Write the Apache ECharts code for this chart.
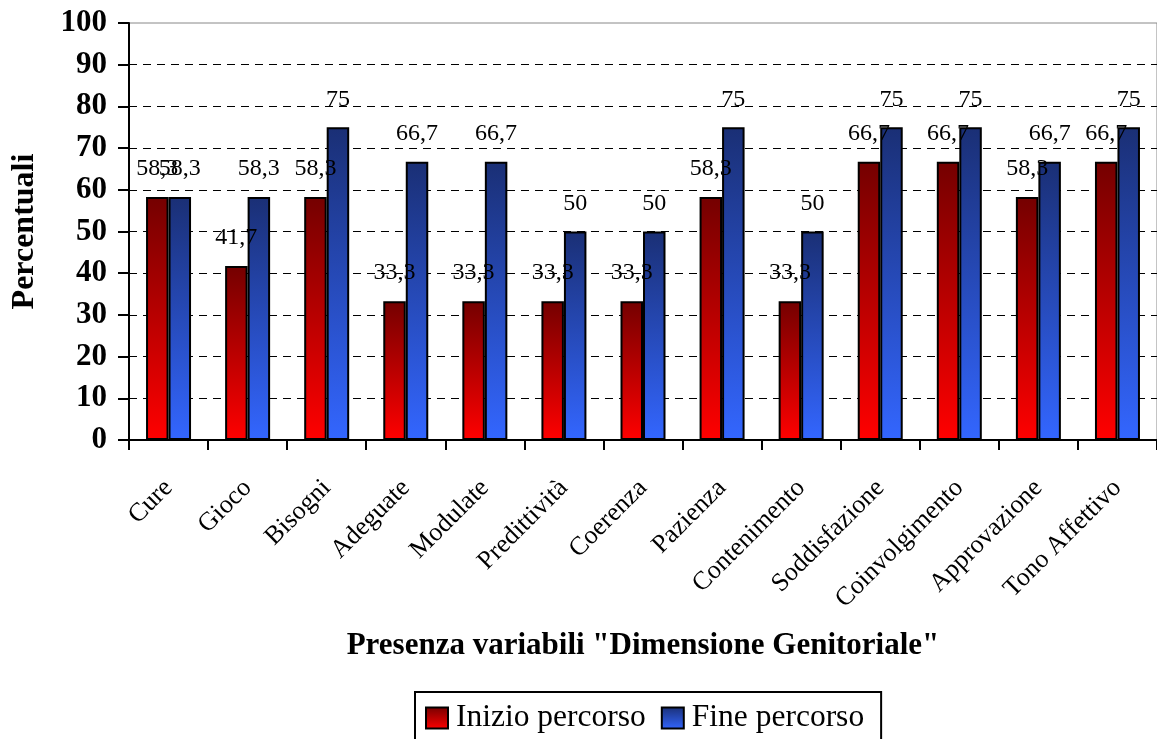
<!DOCTYPE html>
<html>
<head>
<meta charset="utf-8">
<script src="https://cdn.jsdelivr.net/npm/echarts@6/dist/echarts.min.js"></script>
<style>html,body{margin:0;padding:0;background:#fff}#c{width:1157px;height:739px}</style>
</head>
<body>
<div id="c"></div>
<script>
const categories = ['Cure','Gioco','Bisogni','Adeguate','Modulate','Predittività','Coerenza','Pazienza','Contenimento','Soddisfazione','Coinvolgimento','Approvazione','Tono Affettivo'];
const inizio = [58.3,41.7,58.3,33.3,33.3,33.3,33.3,58.3,33.3,66.7,66.7,58.3,66.7];
const fine = [58.3,58.3,75,66.7,66.7,50,50,75,50,75,75,66.7,75];
const yTicks = {min:0, max:100, interval:10};

const F = '"Liberation Serif","Times New Roman",serif';
function grad(top, bottom){
  return new echarts.graphic.LinearGradient(0,0,0,1,[{offset:0,color:top},{offset:1,color:bottom}]);
}
const lbl = {show:true, position:'top', distance:16, color:'#000', fontFamily:F, fontSize:24,
  formatter:p=>String(p.value).replace('.',',')};

const chart = echarts.init(document.getElementById('c'));
chart.setOption({
  animation:false,
  backgroundColor:'#fff',
  grid:{left:129, top:23, bottom:299, right:-12, show:true, borderColor:'#888', borderWidth:1},
  legend:{top:692, left:415, itemWidth:22, itemHeight:21, itemGap:15, padding:[10,17,10,10],
    borderColor:'#000', borderWidth:2, icon:'rect',
    textStyle:{fontFamily:F, fontSize:31.5, color:'#000', padding:[0,0,0,3]},
    data:['Inizio percorso','Fine percorso']},
  xAxis:{type:'category', data:categories,
    name:'Presenza variabili "Dimensione Genitoriale"', nameLocation:'middle', nameGap:190,
    nameTextStyle:{fontFamily:F, fontSize:31, fontWeight:'bold', color:'#000'},
    axisLine:{lineStyle:{color:'#000', width:2}},
    axisTick:{show:true, length:10, lineStyle:{color:'#000', width:2}},
    axisLabel:{rotate:45, interval:0, margin:44, fontFamily:F, fontSize:26, color:'#000'}},
  yAxis:{type:'value', min:yTicks.min, max:yTicks.max, interval:yTicks.interval,
    name:'Percentuali', nameLocation:'middle', nameGap:88,
    nameTextStyle:{fontFamily:F, fontSize:32, fontWeight:'bold', color:'#000'},
    axisLine:{show:true, lineStyle:{color:'#000', width:2}},
    axisTick:{show:true, length:11, lineStyle:{color:'#000', width:2}},
    axisLabel:{margin:22, fontFamily:F, fontSize:31, fontWeight:'bold', color:'#000'},
    splitLine:{show:true, showMaxLine:false, lineStyle:{color:'#000', width:1, type:[8,6]}}},
  series:[
    {name:'Inizio percorso', type:'bar', data:inizio, barWidth:22.5, barGap:'0%',
      itemStyle:{color:grad('#740000','#ff0000'), borderColor:'#000', borderWidth:2}, label:lbl},
    {name:'Fine percorso', type:'bar', data:fine, barWidth:22.5, barGap:'0%',
      itemStyle:{color:grad('#1a2f75','#3366ff'), borderColor:'#000', borderWidth:2}, label:lbl}
  ]
});
</script>
</body>
</html>
